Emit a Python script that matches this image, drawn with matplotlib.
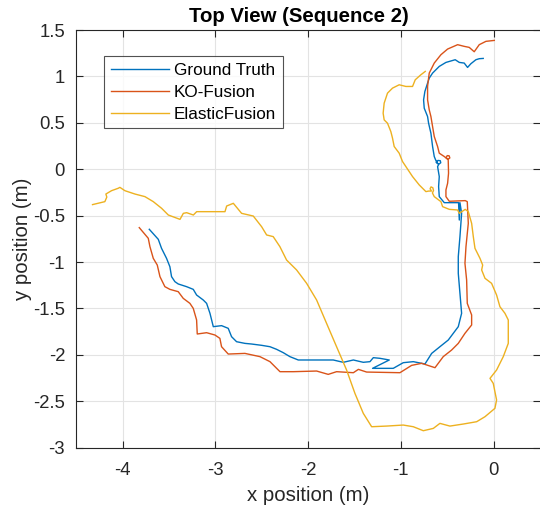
import matplotlib
matplotlib.use("Agg")
import matplotlib.pyplot as plt
from matplotlib.ticker import FixedLocator, FixedFormatter

# ---- data ----
gt_x = [-3.712, -3.615, -3.580, -3.526, -3.490, -3.472, -3.436, -3.400, -3.310, -3.238,
        -3.202, -3.130, -3.094, -3.058, -3.022, -2.933, -2.861, -2.825, -2.771, -2.681,
        -2.609, -2.501, -2.411, -2.340, -2.268, -2.196, -2.106, -1.998, -1.872, -1.729,
        -1.621, -1.512, -1.405, -1.333, -1.297, -1.226, -1.125, -1.305, -1.082, -0.974,
        -0.866, -0.740, -0.668, -0.579, -0.489, -0.435, -0.381, -0.345, -0.363, -0.381,
        -0.381, -0.363, -0.345, -0.363, -0.370, -0.378, -0.532, -0.586, -0.593, -0.586,
        -0.604, -0.590, -0.570, -0.575, -0.600, -0.620, -0.600, -0.625, -0.640, -0.658,
        -0.676, -0.701, -0.712, -0.748, -0.755, -0.741, -0.712, -0.694, -0.658, -0.586,
        -0.514, -0.414, -0.370, -0.317, -0.281, -0.245, -0.191, -0.155, -0.112]
gt_y = [-0.647, -0.755, -0.852, -0.960, -1.050, -1.157, -1.211, -1.236, -1.265, -1.294,
        -1.355, -1.409, -1.445, -1.552, -1.696, -1.685, -1.714, -1.804, -1.858, -1.876,
        -1.883, -1.897, -1.912, -1.940, -1.976, -2.019, -2.055, -2.055, -2.055, -2.055,
        -2.080, -2.055, -2.080, -2.073, -2.030, -2.037, -2.055, -2.145, -2.145, -2.084,
        -2.073, -2.098, -1.984, -1.912, -1.840, -1.768, -1.696, -1.552, -1.337, -1.121,
        -0.942, -0.726, -0.475, -0.360, -0.547, -0.360, -0.360, -0.295, -0.187, -0.079,
        0.029, 0.055, 0.070, 0.092, 0.095, 0.075, 0.058, 0.100, 0.137, 0.245,
        0.388, 0.496, 0.568, 0.658, 0.748, 0.838, 0.928, 0.982, 1.036, 1.108,
        1.151, 1.180, 1.151, 1.144, 1.097, 1.137, 1.180, 1.191, 1.194]

ko_x = [-3.820, -3.723, -3.705, -3.669, -3.626, -3.597, -3.544, -3.490, -3.400, -3.346,
        -3.274, -3.238, -3.202, -3.195, -3.094, -3.004, -2.951, -2.933, -2.861, -2.681,
        -2.519, -2.411, -2.303, -2.160, -1.908, -1.783, -1.693, -1.512, -1.458, -1.369,
        -1.010, -0.884, -0.776, -0.632, -0.543, -0.453, -0.381, -0.309, -0.237, -0.237,
        -0.284, -0.291, -0.309, -0.298, -0.273, -0.284, -0.306, -0.478, -0.514, -0.514,
        -0.496, -0.486, -0.489, -0.490, -0.472, -0.480, -0.500, -0.512, -0.495, -0.532,
        -0.586, -0.604, -0.640, -0.658, -0.676, -0.694, -0.712, -0.712, -0.701, -0.694,
        -0.640, -0.568, -0.496, -0.388, -0.317, -0.263, -0.209, -0.155, -0.083, 0.007]
ko_y = [-0.629, -0.744, -0.834, -0.960, -1.032, -1.157, -1.265, -1.294, -1.319, -1.391,
        -1.445, -1.499, -1.624, -1.775, -1.761, -1.786, -1.822, -1.912, -1.991, -1.984,
        -2.019, -2.073, -2.181, -2.181, -2.174, -2.210, -2.181, -2.192, -2.156, -2.185,
        -2.192, -2.113, -2.091, -2.138, -2.019, -1.948, -1.876, -1.768, -1.678, -1.570,
        -1.445, -1.193, -1.014, -0.834, -0.583, -0.349, -0.338, -0.345, -0.295, -0.223,
        -0.151, -0.043, 0.083, 0.108, 0.122, 0.145, 0.147, 0.125, 0.108, 0.137,
        0.173, 0.245, 0.353, 0.460, 0.568, 0.640, 0.748, 0.892, 0.982, 1.036,
        1.144, 1.234, 1.295, 1.342, 1.324, 1.313, 1.266, 1.342, 1.378, 1.388]

ef_x = [-4.324, -4.191, -4.170, -4.180, -4.119, -4.047, -4.029, -3.975, -3.867, -3.759,
        -3.669, -3.579, -3.507, -3.381, -3.345, -3.309, -3.237, -3.201, -3.094, -2.986,
        -2.896, -2.878, -2.806, -2.717, -2.591, -2.501, -2.447, -2.376, -2.304, -2.232,
        -2.124, -2.016, -1.908, -1.801, -1.693, -1.585, -1.495, -1.405, -1.315, -1.154,
        -0.974, -0.866, -0.758, -0.650, -0.579, -0.471, -0.327, -0.183, -0.093, 0.014,
        0.032, -0.004, -0.039, 0.032, 0.104, 0.158, 0.158, 0.122, 0.068, 0.032,
        -0.022, -0.093, -0.129, -0.118, -0.147, -0.201, -0.219, -0.237, -0.273, -0.306,
        -0.370, -0.388, -0.478, -0.550, -0.568, -0.640, -0.660, -0.648, -0.655, -0.675,
        -0.685, -0.670, -0.700, -0.730, -0.802, -0.874, -0.946, -0.982, -1.018, -1.072,
        -1.090, -1.108, -1.144, -1.180, -1.191, -1.180, -1.144, -1.090, -1.018, -0.946,
        -0.874, -0.845, -0.784, -0.737]
ef_y = [-0.381, -0.349, -0.300, -0.267, -0.231, -0.205, -0.195, -0.231, -0.267, -0.295,
        -0.349, -0.421, -0.493, -0.540, -0.475, -0.468, -0.493, -0.457, -0.457, -0.457,
        -0.457, -0.396, -0.367, -0.475, -0.504, -0.619, -0.708, -0.726, -0.834, -0.978,
        -1.085, -1.229, -1.409, -1.660, -1.912, -2.163, -2.415, -2.630, -2.774, -2.767,
        -2.756, -2.774, -2.817, -2.792, -2.738, -2.767, -2.745, -2.720, -2.666, -2.576,
        -2.486, -2.307, -2.253, -2.163, -2.019, -1.876, -1.624, -1.552, -1.481, -1.355,
        -1.229, -1.175, -1.085, -1.032, -0.960, -0.852, -0.726, -0.583, -0.457, -0.432,
        -0.475, -0.439, -0.432, -0.403, -0.349, -0.295, -0.255, -0.230, -0.200, -0.190,
        -0.210, -0.235, -0.235, -0.241, -0.169, -0.079, 0.029, 0.083, 0.173, 0.245,
        0.335, 0.406, 0.496, 0.532, 0.604, 0.712, 0.820, 0.874, 0.910, 0.892,
        0.892, 0.964, 1.018, 1.054]

series_names = ["Ground Truth", "KO-Fusion", "ElasticFusion"]
x_ticks = [-4, -3, -2, -1, 0]
x_tick_labels = ["-4", "-3", "-2", "-1", "0"]
y_ticks = [1.5, 1, 0.5, 0, -0.5, -1, -1.5, -2, -2.5, -3]
y_tick_labels = ["1.5", "1", "0.5", "0", "-0.5", "-1", "-1.5", "-2", "-2.5", "-3"]

plt.rcParams['font.family'] = ['Liberation Sans', 'DejaVu Sans']

fig = plt.figure(figsize=(5.4, 5.08), dpi=100)
ax = fig.add_axes([0.1411, 0.1187, 0.8589, 0.8222])

colors = ["#0072BD", "#D95319", "#EDB120"]
ax.plot(gt_x, gt_y, color=colors[0], lw=1.0, label=series_names[0])
ax.plot(ko_x, ko_y, color=colors[1], lw=1.0, label=series_names[1])
ax.plot(ef_x, ef_y, color=colors[2], lw=1.0, label=series_names[2])

ax.set_xlim(-4.5, 0.5)
ax.set_ylim(-3, 1.5)
ax.xaxis.set_major_locator(FixedLocator(x_ticks))
ax.xaxis.set_major_formatter(FixedFormatter(x_tick_labels))
ax.yaxis.set_major_locator(FixedLocator(y_ticks))
ax.yaxis.set_major_formatter(FixedFormatter(y_tick_labels))

ax.grid(True, color="#e3e3e3", lw=0.8)
ax.set_axisbelow(True)
for s in ax.spines.values():
    s.set_color("#262626")
    s.set_linewidth(0.8)
ax.spines["right"].set_visible(False)
ax.tick_params(direction="in", length=5, width=0.8, color="#262626",
               labelsize=13.3, labelcolor="#262626", top=True, right=True)
ax.tick_params(axis="x", pad=10)
ax.tick_params(axis="y", pad=8)

ax.set_xlabel("x position (m)", fontsize=14.7, color="#262626", labelpad=5)
ax.set_ylabel("y position (m)", fontsize=14.7, color="#262626", labelpad=1)
ax.set_title("Top View (Sequence 2)", fontsize=14.7, fontweight="bold", pad=6,
             x=0.48)

leg = ax.legend(loc="upper left", bbox_to_anchor=(104 / 540, 1 - 56 / 508),
                bbox_transform=fig.transFigure, fontsize=12.3, frameon=True,
                fancybox=False, edgecolor="#262626", handlelength=3.4,
                handletextpad=0.3, labelspacing=0.4, borderpad=0.4,
                borderaxespad=0)
leg.get_frame().set_linewidth(0.8)

fig.savefig("out.png", dpi=100)
